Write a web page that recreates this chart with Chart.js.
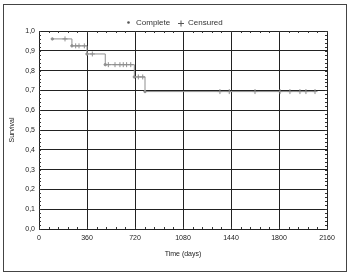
<!DOCTYPE html>
<html><head><meta charset="utf-8">
<script src="https://cdn.jsdelivr.net/npm/chart.js@4/dist/chart.umd.min.js"></script>
<style>html,body{margin:0;padding:0;background:#fff}#w{width:350px;height:274px;position:relative}</style>
</head><body><div id="w"><canvas id="c" width="350" height="274"></canvas></div>
<script>
const xTicks = [0, 360, 720, 1080, 1440, 1800, 2160];
const yTicks = [0, 0.1, 0.2, 0.3, 0.4, 0.5, 0.6, 0.7, 0.8, 0.9, 1.0];
const stepTimes = [100, 247, 360, 497, 715, 795, 2072];
const stepSurv = [0.96, 0.925, 0.884, 0.83, 0.768, 0.694, 0.694];
const completeTimes = [100, 247, 360, 497, 715, 795];
const completeSurv = [0.96, 0.925, 0.884, 0.83, 0.768, 0.694];
const censTimes = [195, 275, 300, 340, 400, 520, 570, 607, 632, 657, 688, 745, 778, 1357, 1427, 1620, 1808, 1882, 1957, 2002, 2070];
const censSurv = [0.96, 0.925, 0.925, 0.925, 0.884, 0.83, 0.83, 0.83, 0.83, 0.83, 0.83, 0.768, 0.768, 0.694, 0.694, 0.694, 0.694, 0.694, 0.694, 0.694, 0.694];
const seriesNames = ['Complete', 'Censured'];

const gray = '#8f8f8f';
const FONT = 'Liberation Sans, Arial, sans-serif';
const frame = {
  id: 'frame',
  beforeDraw(chart) {
    const ctx = chart.ctx;
    ctx.save();
    ctx.fillStyle = '#fff';
    ctx.fillRect(0, 0, 350, 274);
    ctx.strokeStyle = '#444';
    ctx.lineWidth = 1;
    ctx.strokeRect(3.5, 4.5, 343, 267);
    // legend (text drawn as real canvas text)
    ctx.font = '8px ' + FONT;
    ctx.textBaseline = 'middle';
    ctx.textAlign = 'left';
    ctx.fillStyle = '#555';
    ctx.beginPath(); ctx.arc(128.5, 22.5, 1.3, 0, Math.PI * 2); ctx.fill();
    ctx.fillStyle = '#333';
    ctx.fillText(seriesNames[0], 136, 22.5);
    ctx.strokeStyle = '#555';
    ctx.beginPath();
    ctx.moveTo(178, 23.5); ctx.lineTo(184, 23.5);
    ctx.moveTo(181, 20.5); ctx.lineTo(181, 26.5);
    ctx.stroke();
    ctx.fillText(seriesNames[1], 188, 22.5);
    ctx.restore();
  },
  afterDatasetsDraw(chart) {
    const ctx = chart.ctx, a = chart.chartArea, xs = chart.scales.x, ys = chart.scales.y;
    ctx.save();
    ctx.strokeStyle = '#333';
    ctx.lineWidth = 1;
    ctx.beginPath();
    for (let t = 0; t <= 2160; t += 72) {
      const px = Math.round(xs.getPixelForValue(t)) + 0.5;
      ctx.moveTo(px, a.bottom); ctx.lineTo(px, a.bottom - 2);
      ctx.moveTo(px, a.top); ctx.lineTo(px, a.top + 2);
    }
    for (let v = 0; v <= 1.0001; v += 0.02) {
      const py = Math.round(ys.getPixelForValue(v)) + 0.5;
      ctx.moveTo(a.left, py); ctx.lineTo(a.left + 2, py);
      ctx.moveTo(a.right, py); ctx.lineTo(a.right - 2, py);
    }
    ctx.stroke();
    ctx.restore();
  }
};

new Chart(document.getElementById('c'), {
  type: 'scatter',
  data: {
    datasets: [
      { type: 'line', label: 'curve', data: stepTimes.map((t, i) => ({x: t, y: stepSurv[i]})),
        stepped: 'before', borderColor: gray, borderWidth: 1, pointRadius: 0, fill: false },
      { label: seriesNames[0], data: completeTimes.map((t, i) => ({x: t, y: completeSurv[i]})),
        pointStyle: 'circle', pointRadius: 1.2, backgroundColor: gray, borderColor: gray, borderWidth: 1 },
      { label: seriesNames[1], data: censTimes.map((t, i) => ({x: t, y: censSurv[i]})),
        pointStyle: 'cross', pointRadius: 2.5, backgroundColor: gray, borderColor: gray, borderWidth: 1 }
    ]
  },
  options: {
    responsive: false, animation: false, devicePixelRatio: 1,
    layout: { padding: { left: 4, right: 23, top: 31, bottom: 16 } },
    plugins: {
      tooltip: { enabled: false },
      legend: { display: false }
    },
    scales: {
      x: {
        type: 'linear', min: 0, max: 2160,
        afterBuildTicks: (s) => { s.ticks = xTicks.map(v => ({value: v})); },
        afterFit: (s) => { s.height = 29; },
        grid: { color: '#222', lineWidth: 1, drawTicks: false },
        border: { color: '#222' },
        ticks: { padding: 5, color: '#222', font: { family: FONT, size: 7 },
          callback: (v) => String(v) },
        title: { display: true, text: 'Time (days)', color: '#222', padding: { top: 3, bottom: 0 },
          font: { family: FONT, size: 7 } }
      },
      y: {
        type: 'linear', min: 0, max: 1,
        afterBuildTicks: (s) => { s.ticks = yTicks.map(v => ({value: v})); },
        afterFit: (s) => { s.width = 35; },
        grid: { color: '#222', lineWidth: 1, drawTicks: false },
        border: { color: '#222' },
        ticks: { padding: 4, color: '#222', font: { family: FONT, size: 7 },
          callback: (v) => v.toFixed(1).replace('.', ',') },
        title: { display: true, text: 'Survival', color: '#222', padding: { top: 4, bottom: 0 },
          font: { family: FONT, size: 7 } }
      }
    }
  },
  plugins: [frame]
});
</script>
</body></html>
